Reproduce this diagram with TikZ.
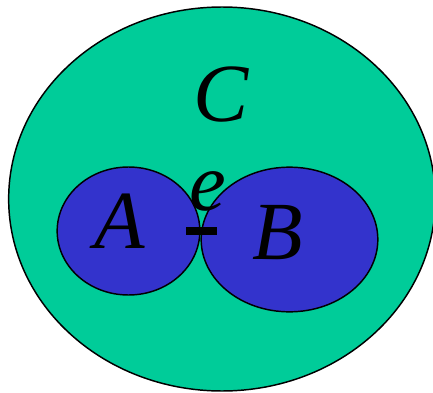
\documentclass[tikz,border=0pt]{standalone}
\usepackage{fontspec}
\setmainfont{Liberation Serif}
\usetikzlibrary{shapes.geometric, positioning}
\definecolor{cGreen}{RGB}{0,204,153}
\definecolor{cBlue}{RGB}{51,51,204}
\tikzset{
	blob/.style={ellipse, draw=black, line width=1.1pt, inner sep=0pt, outer sep=0pt},
	outer/.style={blob, fill=cGreen, minimum width=320pt, minimum height=288pt},
	inner/.style={blob, fill=cBlue},
	setlabel/.style={inner sep=0pt, font=\fontsize{62}{62}\selectfont\itshape},
	% the edge between the two parts
	edgebar/.style={line width=6pt},
}
\begin{document}
\begin{tikzpicture}[x=0.75pt, y=-0.75pt]
	\useasboundingbox (0,0) rectangle (433,393);
	\node[outer] (C) at (222,199) {};
	\node[inner, minimum width=107pt, minimum height=96pt] (A) at (128.5,231) {};
	\node[inner, minimum width=132.5pt, minimum height=108.5pt] (B) at (289.5,239.5) {};
	\node[setlabel] (lC) at (221,95) {C};
	\node[setlabel] (lA) at (120,221) {A};
	\node[setlabel] (lB) at (278,233) {B};
	\node[setlabel] (le) at (208,191) {e};
	\coordinate (eL) at (186,231);
	\coordinate (eR) at (217,231);
	\draw[edgebar] (eL) -- (eR);
\end{tikzpicture}
\end{document}
